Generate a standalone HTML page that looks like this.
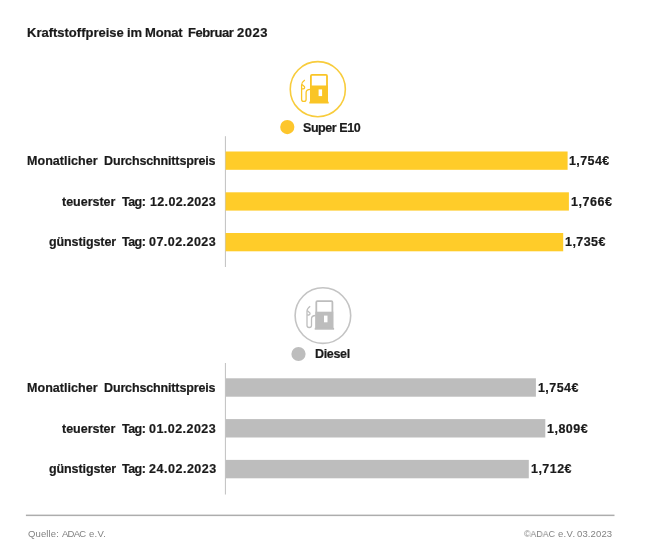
<!DOCTYPE html>
<html><head><meta charset="utf-8">
<style>
html,body{margin:0;padding:0;background:#fff;}
body{width:650px;height:558px;position:relative;overflow:hidden;font-family:"Liberation Sans",sans-serif;color:#1a1a1a;}
.t{position:absolute;white-space:nowrap;line-height:16px;height:16px;will-change:transform;-webkit-text-stroke:0.2px #1a1a1a;}
.f{position:absolute;white-space:nowrap;line-height:12px;height:12px;color:#828282;will-change:transform;}
.bar{position:absolute;left:225.5px;height:18.4px;}
.y{background:#ffcc29;}
.g{background:#bdbdbd;}
.axis{position:absolute;left:225px;width:1px;background:#c8c8c8;}
.dot{position:absolute;width:14px;height:14px;border-radius:50%;}
</style></head><body>
<div class="t" style="left:26.85px;top:24.5px;font-size:13px;font-weight:bold;letter-spacing:-0.003px;">Kraftstoffpreise</div>
<div class="t" style="left:126.55px;top:24.5px;font-size:13px;font-weight:bold;letter-spacing:-0.2px;">im</div>
<div class="t" style="left:144.95px;top:24.5px;font-size:13px;font-weight:bold;letter-spacing:-0.162px;">Monat</div>
<div class="t" style="left:188.25px;top:24.5px;font-size:13px;font-weight:bold;letter-spacing:-0.417px;">Februar</div>
<div class="t" style="left:237.0px;top:24.5px;font-size:13px;font-weight:bold;letter-spacing:0.5px;">2023</div>
<svg style="position:absolute;left:285px;top:57px" width="66" height="66" viewBox="285 57 66 66">
  <circle cx="317.8" cy="89.2" r="27.55" fill="none" stroke="#f8cc3c" stroke-width="1.6"/>
  <g fill="#fac526" stroke="#fac526">
    <path d="M310.9 102 V76 Q310.9 74.9 312 74.9 H326 Q327 74.9 327 76 V102" fill="none" stroke-width="1.8"/>
    <rect x="310" y="85.5" width="17.9" height="16.5" stroke="none"/>
    <rect x="309.3" y="101.7" width="19.4" height="1.8" stroke="none"/>
    <path d="M310.2 89.3 C307.6 89.3 306.1 90.6 306.1 92.6 V99.4 Q306.1 101.3 303.85 101.3 Q301.6 101.3 301.6 99.4 V85 Q301.6 82.3 304.8 80" fill="none" stroke-width="1.3"/>
    <path d="M302 84.6 L304.4 86.6 Q305.2 88.5 303.2 88.8 L301.8 88.8" fill="none" stroke-width="1.3"/>
    <rect x="318.6" y="89.4" width="3.5" height="6.7" fill="#fff" stroke="none"/>
  </g>
</svg>
<svg style="position:absolute;left:0;top:0" width="650" height="558"><circle cx="287.3" cy="127.1" r="7.1" fill="#fdc62c"/></svg>
<div class="t" style="left:303.25px;top:119.5px;font-size:12.5px;font-weight:bold;letter-spacing:-0.438px;">Super E10</div>
<svg style="position:absolute;left:0;top:0" width="650" height="558"><rect x="224.9" y="136.2" width="1.1" height="130.8" fill="#c6c6c6"/></svg>
<svg style="position:absolute;left:0;top:0" width="650" height="558"><g fill="#ffcc29">
<rect x="225.6" y="151.5" width="342" height="18.3"/>
<rect x="225.6" y="192.3" width="343.3" height="18.3"/>
<rect x="225.6" y="233.0" width="337.6" height="18.3"/>
</g></svg>
<div class="t" style="left:26.95px;top:153px;font-size:12.5px;font-weight:bold;letter-spacing:0.045px;">Monatlicher</div>
<div class="t" style="left:104.05px;top:153px;font-size:12.5px;font-weight:bold;letter-spacing:-0.141px;">Durchschnittspreis</div>
<div class="t" style="left:61.9px;top:194px;font-size:12.5px;font-weight:bold;letter-spacing:-0.019px;">teuerster</div>
<div class="t" style="left:121.5px;top:194px;font-size:12.5px;font-weight:bold;letter-spacing:-0.533px;">Tag:</div>
<div class="t" style="left:150.05px;top:194px;font-size:12.5px;font-weight:bold;letter-spacing:0.356px;">12.02.2023</div>
<div class="t" style="left:48.5px;top:234px;font-size:12.5px;font-weight:bold;letter-spacing:-0.095px;">günstigster</div>
<div class="t" style="left:121.5px;top:234px;font-size:12.5px;font-weight:bold;letter-spacing:-0.533px;">Tag:</div>
<div class="t" style="left:149.1px;top:234px;font-size:12.5px;font-weight:bold;letter-spacing:0.456px;">07.02.2023</div>
<div class="t" style="left:569.25px;top:153px;font-size:12.5px;font-weight:bold;letter-spacing:0.41px;">1,754€</div>
<div class="t" style="left:570.95px;top:194px;font-size:12.5px;font-weight:bold;letter-spacing:0.52px;">1,766€</div>
<div class="t" style="left:565.05px;top:234px;font-size:12.5px;font-weight:bold;letter-spacing:0.44px;">1,735€</div>
<svg style="position:absolute;left:290px;top:283px" width="66" height="66" viewBox="290 283 66 66">
  <circle cx="322.9" cy="315.6" r="27.8" fill="none" stroke="#c4c4c4" stroke-width="1.6"/>
  <g transform="translate(5.4 226.2)" fill="#bdbdbd" stroke="#bdbdbd">
    <path d="M310.9 102 V76 Q310.9 74.9 312 74.9 H326 Q327 74.9 327 76 V102" fill="none" stroke-width="1.8"/>
    <rect x="310" y="85.5" width="17.9" height="16.5" stroke="none"/>
    <rect x="309.3" y="101.7" width="19.4" height="1.8" stroke="none"/>
    <path d="M310.2 89.3 C307.6 89.3 306.1 90.6 306.1 92.6 V99.4 Q306.1 101.3 303.85 101.3 Q301.6 101.3 301.6 99.4 V85 Q301.6 82.3 304.8 80" fill="none" stroke-width="1.3"/>
    <path d="M302 84.6 L304.4 86.6 Q305.2 88.5 303.2 88.8 L301.8 88.8" fill="none" stroke-width="1.3"/>
    <rect x="318.6" y="89.4" width="3.5" height="6.7" fill="#fff" stroke="none"/>
  </g>
</svg>
<svg style="position:absolute;left:0;top:0" width="650" height="558"><circle cx="298.5" cy="354.0" r="7.1" fill="#bdbdbd"/></svg>
<div class="t" style="left:314.55px;top:346px;font-size:12.5px;font-weight:bold;letter-spacing:-0.32px;">Diesel</div>
<svg style="position:absolute;left:0;top:0" width="650" height="558"><rect x="224.9" y="363" width="1.1" height="131.5" fill="#c6c6c6"/></svg>
<svg style="position:absolute;left:0;top:0" width="650" height="558"><g fill="#bdbdbd">
<rect x="225.6" y="378.3" width="310.3" height="18.4"/>
<rect x="225.6" y="419.1" width="319.7" height="18.4"/>
<rect x="225.6" y="459.9" width="303.2" height="18.4"/>
</g></svg>
<div class="t" style="left:26.95px;top:380px;font-size:12.5px;font-weight:bold;letter-spacing:0.045px;">Monatlicher</div>
<div class="t" style="left:104.05px;top:380px;font-size:12.5px;font-weight:bold;letter-spacing:-0.141px;">Durchschnittspreis</div>
<div class="t" style="left:61.9px;top:421px;font-size:12.5px;font-weight:bold;letter-spacing:-0.019px;">teuerster</div>
<div class="t" style="left:121.5px;top:421px;font-size:12.5px;font-weight:bold;letter-spacing:-0.533px;">Tag:</div>
<div class="t" style="left:149.1px;top:421px;font-size:12.5px;font-weight:bold;letter-spacing:0.456px;">01.02.2023</div>
<div class="t" style="left:48.5px;top:461px;font-size:12.5px;font-weight:bold;letter-spacing:-0.095px;">günstigster</div>
<div class="t" style="left:121.5px;top:461px;font-size:12.5px;font-weight:bold;letter-spacing:-0.533px;">Tag:</div>
<div class="t" style="left:148.55px;top:461px;font-size:12.5px;font-weight:bold;letter-spacing:0.522px;">24.02.2023</div>
<div class="t" style="left:537.75px;top:380px;font-size:12.5px;font-weight:bold;letter-spacing:0.42px;">1,754€</div>
<div class="t" style="left:547.25px;top:421px;font-size:12.5px;font-weight:bold;letter-spacing:0.48px;">1,809€</div>
<div class="t" style="left:530.75px;top:461px;font-size:12.5px;font-weight:bold;letter-spacing:0.45px;">1,712€</div>
<svg style="position:absolute;left:0;top:0" width="650" height="558"><rect x="25.9" y="514.6" width="588.6" height="1.5" fill="#adadad"/></svg>
<div class="f" style="left:28.1px;top:527.8px;font-size:9.5px;font-weight:normal;letter-spacing:0.117px;">Quelle:</div>
<div class="f" style="left:61.9px;top:527.8px;font-size:9.5px;font-weight:normal;letter-spacing:-0.733px;">ADAC</div>
<div class="f" style="left:88.55px;top:527.8px;font-size:9.5px;font-weight:normal;letter-spacing:0.283px;">e.V.</div>
<div class="f" style="left:557.75px;top:527.8px;font-size:9.5px;font-weight:normal;letter-spacing:0.333px;">e.V.</div>
<div class="f" style="left:576.55px;top:527.8px;font-size:9.5px;font-weight:normal;letter-spacing:0.133px;">03.2023</div>
<div class="f" style="left:523.8px;top:527.8px;font-size:9.5px;transform:scaleX(0.927);transform-origin:0 0;">©ADAC</div>
</body></html>
